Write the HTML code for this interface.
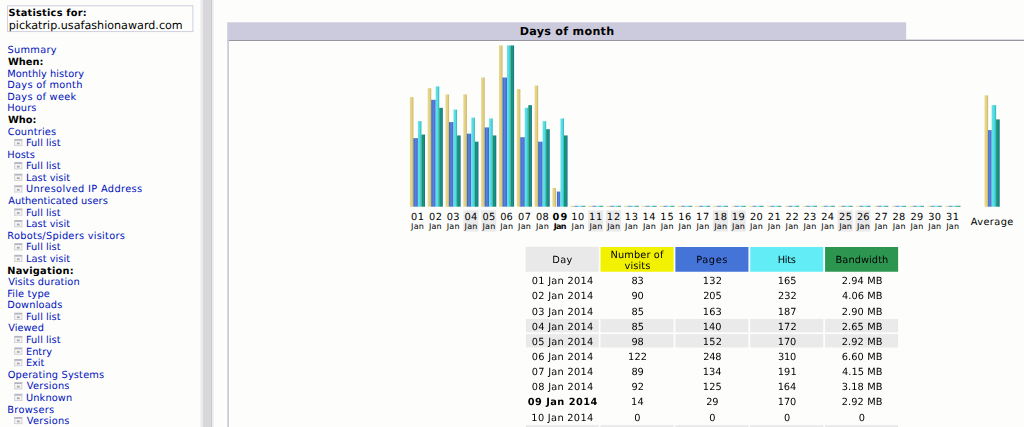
<!DOCTYPE html><html><head><meta charset="utf-8"><title>Statistics for pickatrip.usafashionaward.com</title>
<style>
html,body{margin:0;padding:0;background:#fdfefc;overflow:hidden;width:1024px;height:427px}
#p{position:absolute;left:0;top:0;width:1152px;height:482px;transform:scale(0.891);transform-origin:0 0;font:11px "DejaVu Sans","Liberation Sans",sans-serif;color:#000;background:#fdfefc;text-rendering:geometricPrecision}
#p div,#p span,#p a{position:absolute;white-space:nowrap}
a{color:#0011BB;text-decoration:none}
.t{line-height:13px;height:13px}
.i{width:9px;height:8px;border:1px solid #d0d0d6;border-top:2px solid #b4b4c0;background:#f4f4f7;box-sizing:border-box}
.i:after{content:"";position:absolute;left:2px;top:1.5px;width:3px;height:2px;background:#a8a8a4}
b{font-weight:bold}
.bar{width:4.2px}
.we{background:#EAEAEA}
.c{text-align:center}
</style></head><body><div id="p">
<div style="left:8.19px;top:5.50px;width:208.87px;height:30.53px;border:1px solid #c9c9dc;box-sizing:border-box"></div>
<div class="t" style="left:9.58px;top:8.11px;letter-spacing:0.253px"><b>Statistics for:</b></div>
<div style="left:9.79px;top:20.35px;font-size:12.5px;line-height:15px;letter-spacing:0.007px">pickatrip.usafashionaward.com</div>
<a class="t" style="left:8.50px;top:50.31px;letter-spacing:0.306px">Summary</a>
<div class="t" style="left:8.90px;top:63.31px;letter-spacing:0.057px"><b>When:</b></div>
<a class="t" style="left:8.15px;top:76.31px;letter-spacing:0.060px">Monthly history</a>
<a class="t" style="left:8.15px;top:89.31px;letter-spacing:0.300px">Days of month</a>
<a class="t" style="left:8.15px;top:102.32px;letter-spacing:0.313px">Days of week</a>
<a class="t" style="left:8.15px;top:115.32px;letter-spacing:0.139px">Hours</a>
<div class="t" style="left:8.90px;top:128.32px;letter-spacing:0.035px"><b>Who:</b></div>
<a class="t" style="left:8.60px;top:141.32px;letter-spacing:0.212px">Countries</a>
<div class="i" style="left:15.71px;top:156.06px"></div>
<a class="t" style="left:29.14px;top:154.33px;letter-spacing:0.056px">Full list</a>
<a class="t" style="left:8.15px;top:167.33px;letter-spacing:0.052px">Hosts</a>
<div class="i" style="left:15.71px;top:182.07px"></div>
<a class="t" style="left:29.14px;top:180.33px;letter-spacing:0.056px">Full list</a>
<div class="i" style="left:15.71px;top:195.07px"></div>
<a class="t" style="left:29.14px;top:193.33px;letter-spacing:0.055px">Last visit</a>
<div class="i" style="left:15.71px;top:208.07px"></div>
<a class="t" style="left:29.24px;top:206.33px;letter-spacing:0.384px">Unresolved IP Address</a>
<a class="t" style="left:9.15px;top:219.34px;letter-spacing:0.047px">Authenticated users</a>
<div class="i" style="left:15.71px;top:234.08px"></div>
<a class="t" style="left:29.14px;top:232.34px;letter-spacing:0.056px">Full list</a>
<div class="i" style="left:15.71px;top:247.08px"></div>
<a class="t" style="left:29.14px;top:245.34px;letter-spacing:0.055px">Last visit</a>
<a class="t" style="left:8.15px;top:258.34px;letter-spacing:0.295px">Robots/Spiders visitors</a>
<div class="i" style="left:15.71px;top:273.08px"></div>
<a class="t" style="left:29.14px;top:271.35px;letter-spacing:0.056px">Full list</a>
<div class="i" style="left:15.71px;top:286.09px"></div>
<a class="t" style="left:29.14px;top:284.35px;letter-spacing:0.055px">Last visit</a>
<div class="t" style="left:8.20px;top:297.35px;letter-spacing:0.279px"><b>Navigation:</b></div>
<a class="t" style="left:9.15px;top:310.35px;letter-spacing:0.090px">Visits duration</a>
<a class="t" style="left:8.15px;top:323.35px;letter-spacing:0.173px">File type</a>
<a class="t" style="left:8.15px;top:336.36px;letter-spacing:0.180px">Downloads</a>
<div class="i" style="left:15.71px;top:351.10px"></div>
<a class="t" style="left:29.14px;top:349.36px;letter-spacing:0.056px">Full list</a>
<a class="t" style="left:9.15px;top:362.36px;letter-spacing:0.047px">Viewed</a>
<div class="i" style="left:15.71px;top:377.10px"></div>
<a class="t" style="left:29.14px;top:375.36px;letter-spacing:0.056px">Full list</a>
<div class="i" style="left:15.71px;top:390.10px"></div>
<a class="t" style="left:29.14px;top:388.37px;letter-spacing:0.010px">Entry</a>
<div class="i" style="left:15.71px;top:403.11px"></div>
<a class="t" style="left:29.14px;top:401.37px;letter-spacing:-0.071px">Exit</a>
<a class="t" style="left:8.60px;top:414.37px;letter-spacing:0.192px">Operating Systems</a>
<div class="i" style="left:15.71px;top:429.11px"></div>
<a class="t" style="left:30.14px;top:427.37px;letter-spacing:0.236px">Versions</a>
<div class="i" style="left:15.71px;top:442.11px"></div>
<a class="t" style="left:29.24px;top:440.37px;letter-spacing:0.107px">Unknown</a>
<a class="t" style="left:8.15px;top:453.38px;letter-spacing:0.335px">Browsers</a>
<div class="i" style="left:15.71px;top:468.12px"></div>
<a class="t" style="left:30.14px;top:466.38px;letter-spacing:0.236px">Versions</a>
<div style="left:224.69px;top:0;width:3.82px;height:482px;background:#ebebed"></div>
<div style="left:228.28px;top:0;width:8.53px;height:482px;background:#d9d7dc"></div>
<div style="left:236.70px;top:0;width:1.01px;height:482px;background:#c2c0c5"></div>
<div style="left:237.71px;top:0;width:2.02px;height:482px;background:#ececf0"></div>
<div style="left:254.66px;top:24.80px;width:762.18px;height:20.43px;background:#cccbdd"></div>
<div style="left:583.30px;top:27.26px;font-size:12.5px;line-height:15px;letter-spacing:0.321px"><b>Days of month</b></div>
<div style="left:1016.84px;top:44.00px;width:136.44px;height:1.2px;background:#d2d2dc"></div>
<div style="left:254.66px;top:44.78px;width:898.61px;height:1.1px;background:#8c8a92"></div>
<div style="left:254.66px;top:45.23px;width:2px;height:460px;background:#cccbdd"></div>
<div class="bar" style="left:460.16px;top:109.10px;height:123px;background:linear-gradient(90deg,#e8d890 0,#e2d284 55%,#ccb264 100%)"></div>
<div class="bar" style="left:464.36px;top:155.10px;height:77px;background:linear-gradient(90deg,#2a62b6 0,#5a82dc 40%,#5474d8 70%,#3860c4 100%)"></div>
<div class="bar" style="left:468.56px;top:136.10px;height:96px;background:linear-gradient(90deg,#5ee4ea 0,#54dce2 55%,#34b0b8 100%)"></div>
<div class="bar" style="left:472.76px;top:151.10px;height:81px;background:linear-gradient(90deg,#0e8e6e 0,#169878 55%,#1e68a0 100%)"></div>
<div class="t" style="left:461.37px;top:236.61px;letter-spacing:0.496px">01</div>
<div style="left:461.33px;top:249.57px;font-size:9px;line-height:11px;letter-spacing:0.261px">Jan</div>
<div class="bar" style="left:480.18px;top:99.10px;height:133px;background:linear-gradient(90deg,#e8d890 0,#e2d284 55%,#ccb264 100%)"></div>
<div class="bar" style="left:484.38px;top:112.10px;height:120px;background:linear-gradient(90deg,#2a62b6 0,#5a82dc 40%,#5474d8 70%,#3860c4 100%)"></div>
<div class="bar" style="left:488.58px;top:97.10px;height:135px;background:linear-gradient(90deg,#5ee4ea 0,#54dce2 55%,#34b0b8 100%)"></div>
<div class="bar" style="left:492.78px;top:121.10px;height:111px;background:linear-gradient(90deg,#0e8e6e 0,#169878 55%,#1e68a0 100%)"></div>
<div class="t" style="left:481.38px;top:236.61px;letter-spacing:0.596px">02</div>
<div style="left:481.35px;top:249.57px;font-size:9px;line-height:11px;letter-spacing:0.261px">Jan</div>
<div class="bar" style="left:500.20px;top:106.10px;height:126px;background:linear-gradient(90deg,#e8d890 0,#e2d284 55%,#ccb264 100%)"></div>
<div class="bar" style="left:504.40px;top:137.10px;height:95px;background:linear-gradient(90deg,#2a62b6 0,#5a82dc 40%,#5474d8 70%,#3860c4 100%)"></div>
<div class="bar" style="left:508.60px;top:123.10px;height:109px;background:linear-gradient(90deg,#5ee4ea 0,#54dce2 55%,#34b0b8 100%)"></div>
<div class="bar" style="left:512.80px;top:152.10px;height:80px;background:linear-gradient(90deg,#0e8e6e 0,#169878 55%,#1e68a0 100%)"></div>
<div class="t" style="left:501.40px;top:236.61px;letter-spacing:0.346px">03</div>
<div style="left:501.37px;top:249.57px;font-size:9px;line-height:11px;letter-spacing:0.261px">Jan</div>
<div class="bar" style="left:520.21px;top:106.10px;height:126px;background:linear-gradient(90deg,#e8d890 0,#e2d284 55%,#ccb264 100%)"></div>
<div class="bar" style="left:524.41px;top:150.10px;height:82px;background:linear-gradient(90deg,#2a62b6 0,#5a82dc 40%,#5474d8 70%,#3860c4 100%)"></div>
<div class="bar" style="left:528.61px;top:132.10px;height:100px;background:linear-gradient(90deg,#5ee4ea 0,#54dce2 55%,#34b0b8 100%)"></div>
<div class="bar" style="left:532.81px;top:159.10px;height:73px;background:linear-gradient(90deg,#0e8e6e 0,#169878 55%,#1e68a0 100%)"></div>
<div class="we" style="left:519.71px;top:235.69px;width:16.95px;height:24.24px"></div>
<div class="t" style="left:521.42px;top:236.61px;letter-spacing:0.096px">04</div>
<div style="left:521.39px;top:249.57px;font-size:9px;line-height:11px;letter-spacing:0.261px">Jan</div>
<div class="bar" style="left:540.23px;top:87.10px;height:145px;background:linear-gradient(90deg,#e8d890 0,#e2d284 55%,#ccb264 100%)"></div>
<div class="bar" style="left:544.43px;top:143.10px;height:89px;background:linear-gradient(90deg,#2a62b6 0,#5a82dc 40%,#5474d8 70%,#3860c4 100%)"></div>
<div class="bar" style="left:548.63px;top:133.10px;height:99px;background:linear-gradient(90deg,#5ee4ea 0,#54dce2 55%,#34b0b8 100%)"></div>
<div class="bar" style="left:552.83px;top:152.10px;height:80px;background:linear-gradient(90deg,#0e8e6e 0,#169878 55%,#1e68a0 100%)"></div>
<div class="we" style="left:539.73px;top:235.69px;width:16.95px;height:24.24px"></div>
<div class="t" style="left:541.44px;top:236.61px;letter-spacing:0.446px">05</div>
<div style="left:541.41px;top:249.57px;font-size:9px;line-height:11px;letter-spacing:0.261px">Jan</div>
<div class="bar" style="left:560.25px;top:51.10px;height:181px;background:linear-gradient(90deg,#e8d890 0,#e2d284 55%,#ccb264 100%)"></div>
<div class="bar" style="left:564.45px;top:87.10px;height:145px;background:linear-gradient(90deg,#2a62b6 0,#5a82dc 40%,#5474d8 70%,#3860c4 100%)"></div>
<div class="bar" style="left:568.65px;top:51.10px;height:181px;background:linear-gradient(90deg,#5ee4ea 0,#54dce2 55%,#34b0b8 100%)"></div>
<div class="bar" style="left:572.85px;top:51.10px;height:181px;background:linear-gradient(90deg,#0e8e6e 0,#169878 55%,#1e68a0 100%)"></div>
<div class="t" style="left:561.46px;top:236.61px;letter-spacing:0.146px">06</div>
<div style="left:561.43px;top:249.57px;font-size:9px;line-height:11px;letter-spacing:0.261px">Jan</div>
<div class="bar" style="left:580.27px;top:100.10px;height:132px;background:linear-gradient(90deg,#e8d890 0,#e2d284 55%,#ccb264 100%)"></div>
<div class="bar" style="left:584.47px;top:154.10px;height:78px;background:linear-gradient(90deg,#2a62b6 0,#5a82dc 40%,#5474d8 70%,#3860c4 100%)"></div>
<div class="bar" style="left:588.67px;top:121.10px;height:111px;background:linear-gradient(90deg,#5ee4ea 0,#54dce2 55%,#34b0b8 100%)"></div>
<div class="bar" style="left:592.87px;top:118.10px;height:114px;background:linear-gradient(90deg,#0e8e6e 0,#169878 55%,#1e68a0 100%)"></div>
<div class="t" style="left:581.48px;top:236.61px;letter-spacing:0.396px">07</div>
<div style="left:581.45px;top:249.57px;font-size:9px;line-height:11px;letter-spacing:0.261px">Jan</div>
<div class="bar" style="left:600.29px;top:96.10px;height:136px;background:linear-gradient(90deg,#e8d890 0,#e2d284 55%,#ccb264 100%)"></div>
<div class="bar" style="left:604.49px;top:159.10px;height:73px;background:linear-gradient(90deg,#2a62b6 0,#5a82dc 40%,#5474d8 70%,#3860c4 100%)"></div>
<div class="bar" style="left:608.69px;top:136.10px;height:96px;background:linear-gradient(90deg,#5ee4ea 0,#54dce2 55%,#34b0b8 100%)"></div>
<div class="bar" style="left:612.89px;top:145.10px;height:87px;background:linear-gradient(90deg,#0e8e6e 0,#169878 55%,#1e68a0 100%)"></div>
<div class="t" style="left:601.50px;top:236.61px;letter-spacing:0.246px">08</div>
<div style="left:601.46px;top:249.57px;font-size:9px;line-height:11px;letter-spacing:0.261px">Jan</div>
<div class="bar" style="left:620.31px;top:211.10px;height:21px;background:linear-gradient(90deg,#e8d890 0,#e2d284 55%,#ccb264 100%)"></div>
<div class="bar" style="left:624.51px;top:215.10px;height:17px;background:linear-gradient(90deg,#2a62b6 0,#5a82dc 40%,#5474d8 70%,#3860c4 100%)"></div>
<div class="bar" style="left:628.71px;top:133.10px;height:99px;background:linear-gradient(90deg,#5ee4ea 0,#54dce2 55%,#34b0b8 100%)"></div>
<div class="bar" style="left:632.91px;top:152.10px;height:80px;background:linear-gradient(90deg,#0e8e6e 0,#169878 55%,#1e68a0 100%)"></div>
<div class="t" style="left:620.15px;top:236.61px;letter-spacing:1.272px"><b>09</b></div>
<div style="left:621.53px;top:249.57px;font-size:9px;line-height:11px;letter-spacing:-0.790px"><b>Jan</b></div>
<div class="bar" style="left:640.33px;top:231.10px;height:1px;background:linear-gradient(90deg,#e8d890 0,#e2d284 55%,#ccb264 100%)"></div>
<div class="bar" style="left:644.53px;top:231.10px;height:1px;background:linear-gradient(90deg,#2a62b6 0,#5a82dc 40%,#5474d8 70%,#3860c4 100%)"></div>
<div class="bar" style="left:648.73px;top:231.10px;height:1px;background:linear-gradient(90deg,#5ee4ea 0,#54dce2 55%,#34b0b8 100%)"></div>
<div class="bar" style="left:652.93px;top:231.10px;height:1px;background:linear-gradient(90deg,#0e8e6e 0,#169878 55%,#1e68a0 100%)"></div>
<div class="t" style="left:641.04px;top:236.61px;letter-spacing:0.696px">10</div>
<div style="left:641.50px;top:249.57px;font-size:9px;line-height:11px;letter-spacing:0.261px">Jan</div>
<div class="bar" style="left:660.35px;top:231.10px;height:1px;background:linear-gradient(90deg,#e8d890 0,#e2d284 55%,#ccb264 100%)"></div>
<div class="bar" style="left:664.55px;top:231.10px;height:1px;background:linear-gradient(90deg,#2a62b6 0,#5a82dc 40%,#5474d8 70%,#3860c4 100%)"></div>
<div class="bar" style="left:668.75px;top:231.10px;height:1px;background:linear-gradient(90deg,#5ee4ea 0,#54dce2 55%,#34b0b8 100%)"></div>
<div class="bar" style="left:672.95px;top:231.10px;height:1px;background:linear-gradient(90deg,#0e8e6e 0,#169878 55%,#1e68a0 100%)"></div>
<div class="we" style="left:659.85px;top:235.69px;width:16.95px;height:24.24px"></div>
<div class="t" style="left:661.06px;top:236.61px;letter-spacing:0.996px">11</div>
<div style="left:661.52px;top:249.57px;font-size:9px;line-height:11px;letter-spacing:0.261px">Jan</div>
<div class="bar" style="left:680.37px;top:231.10px;height:1px;background:linear-gradient(90deg,#e8d890 0,#e2d284 55%,#ccb264 100%)"></div>
<div class="bar" style="left:684.57px;top:231.10px;height:1px;background:linear-gradient(90deg,#2a62b6 0,#5a82dc 40%,#5474d8 70%,#3860c4 100%)"></div>
<div class="bar" style="left:688.77px;top:231.10px;height:1px;background:linear-gradient(90deg,#5ee4ea 0,#54dce2 55%,#34b0b8 100%)"></div>
<div class="bar" style="left:692.97px;top:231.10px;height:1px;background:linear-gradient(90deg,#0e8e6e 0,#169878 55%,#1e68a0 100%)"></div>
<div class="we" style="left:679.87px;top:235.69px;width:16.95px;height:24.24px"></div>
<div class="t" style="left:681.07px;top:236.61px;letter-spacing:1.096px">12</div>
<div style="left:681.54px;top:249.57px;font-size:9px;line-height:11px;letter-spacing:0.261px">Jan</div>
<div class="bar" style="left:700.39px;top:231.10px;height:1px;background:linear-gradient(90deg,#e8d890 0,#e2d284 55%,#ccb264 100%)"></div>
<div class="bar" style="left:704.59px;top:231.10px;height:1px;background:linear-gradient(90deg,#2a62b6 0,#5a82dc 40%,#5474d8 70%,#3860c4 100%)"></div>
<div class="bar" style="left:708.79px;top:231.10px;height:1px;background:linear-gradient(90deg,#5ee4ea 0,#54dce2 55%,#34b0b8 100%)"></div>
<div class="bar" style="left:712.99px;top:231.10px;height:1px;background:linear-gradient(90deg,#0e8e6e 0,#169878 55%,#1e68a0 100%)"></div>
<div class="t" style="left:701.09px;top:236.61px;letter-spacing:0.846px">13</div>
<div style="left:701.56px;top:249.57px;font-size:9px;line-height:11px;letter-spacing:0.261px">Jan</div>
<div class="bar" style="left:720.41px;top:231.10px;height:1px;background:linear-gradient(90deg,#e8d890 0,#e2d284 55%,#ccb264 100%)"></div>
<div class="bar" style="left:724.61px;top:231.10px;height:1px;background:linear-gradient(90deg,#2a62b6 0,#5a82dc 40%,#5474d8 70%,#3860c4 100%)"></div>
<div class="bar" style="left:728.81px;top:231.10px;height:1px;background:linear-gradient(90deg,#5ee4ea 0,#54dce2 55%,#34b0b8 100%)"></div>
<div class="bar" style="left:733.01px;top:231.10px;height:1px;background:linear-gradient(90deg,#0e8e6e 0,#169878 55%,#1e68a0 100%)"></div>
<div class="t" style="left:721.11px;top:236.61px;letter-spacing:0.596px">14</div>
<div style="left:721.58px;top:249.57px;font-size:9px;line-height:11px;letter-spacing:0.261px">Jan</div>
<div class="bar" style="left:740.42px;top:231.10px;height:1px;background:linear-gradient(90deg,#e8d890 0,#e2d284 55%,#ccb264 100%)"></div>
<div class="bar" style="left:744.62px;top:231.10px;height:1px;background:linear-gradient(90deg,#2a62b6 0,#5a82dc 40%,#5474d8 70%,#3860c4 100%)"></div>
<div class="bar" style="left:748.82px;top:231.10px;height:1px;background:linear-gradient(90deg,#5ee4ea 0,#54dce2 55%,#34b0b8 100%)"></div>
<div class="bar" style="left:753.02px;top:231.10px;height:1px;background:linear-gradient(90deg,#0e8e6e 0,#169878 55%,#1e68a0 100%)"></div>
<div class="t" style="left:741.13px;top:236.61px;letter-spacing:0.946px">15</div>
<div style="left:741.60px;top:249.57px;font-size:9px;line-height:11px;letter-spacing:0.261px">Jan</div>
<div class="bar" style="left:760.44px;top:231.10px;height:1px;background:linear-gradient(90deg,#e8d890 0,#e2d284 55%,#ccb264 100%)"></div>
<div class="bar" style="left:764.64px;top:231.10px;height:1px;background:linear-gradient(90deg,#2a62b6 0,#5a82dc 40%,#5474d8 70%,#3860c4 100%)"></div>
<div class="bar" style="left:768.84px;top:231.10px;height:1px;background:linear-gradient(90deg,#5ee4ea 0,#54dce2 55%,#34b0b8 100%)"></div>
<div class="bar" style="left:773.04px;top:231.10px;height:1px;background:linear-gradient(90deg,#0e8e6e 0,#169878 55%,#1e68a0 100%)"></div>
<div class="t" style="left:761.15px;top:236.61px;letter-spacing:0.646px">16</div>
<div style="left:761.62px;top:249.57px;font-size:9px;line-height:11px;letter-spacing:0.261px">Jan</div>
<div class="bar" style="left:780.46px;top:231.10px;height:1px;background:linear-gradient(90deg,#e8d890 0,#e2d284 55%,#ccb264 100%)"></div>
<div class="bar" style="left:784.66px;top:231.10px;height:1px;background:linear-gradient(90deg,#2a62b6 0,#5a82dc 40%,#5474d8 70%,#3860c4 100%)"></div>
<div class="bar" style="left:788.86px;top:231.10px;height:1px;background:linear-gradient(90deg,#5ee4ea 0,#54dce2 55%,#34b0b8 100%)"></div>
<div class="bar" style="left:793.06px;top:231.10px;height:1px;background:linear-gradient(90deg,#0e8e6e 0,#169878 55%,#1e68a0 100%)"></div>
<div class="t" style="left:781.17px;top:236.61px;letter-spacing:0.896px">17</div>
<div style="left:781.64px;top:249.57px;font-size:9px;line-height:11px;letter-spacing:0.261px">Jan</div>
<div class="bar" style="left:800.48px;top:231.10px;height:1px;background:linear-gradient(90deg,#e8d890 0,#e2d284 55%,#ccb264 100%)"></div>
<div class="bar" style="left:804.68px;top:231.10px;height:1px;background:linear-gradient(90deg,#2a62b6 0,#5a82dc 40%,#5474d8 70%,#3860c4 100%)"></div>
<div class="bar" style="left:808.88px;top:231.10px;height:1px;background:linear-gradient(90deg,#5ee4ea 0,#54dce2 55%,#34b0b8 100%)"></div>
<div class="bar" style="left:813.08px;top:231.10px;height:1px;background:linear-gradient(90deg,#0e8e6e 0,#169878 55%,#1e68a0 100%)"></div>
<div class="we" style="left:799.98px;top:235.69px;width:16.95px;height:24.24px"></div>
<div class="t" style="left:801.19px;top:236.61px;letter-spacing:0.746px">18</div>
<div style="left:801.65px;top:249.57px;font-size:9px;line-height:11px;letter-spacing:0.261px">Jan</div>
<div class="bar" style="left:820.50px;top:231.10px;height:1px;background:linear-gradient(90deg,#e8d890 0,#e2d284 55%,#ccb264 100%)"></div>
<div class="bar" style="left:824.70px;top:231.10px;height:1px;background:linear-gradient(90deg,#2a62b6 0,#5a82dc 40%,#5474d8 70%,#3860c4 100%)"></div>
<div class="bar" style="left:828.90px;top:231.10px;height:1px;background:linear-gradient(90deg,#5ee4ea 0,#54dce2 55%,#34b0b8 100%)"></div>
<div class="bar" style="left:833.10px;top:231.10px;height:1px;background:linear-gradient(90deg,#0e8e6e 0,#169878 55%,#1e68a0 100%)"></div>
<div class="we" style="left:820.00px;top:235.69px;width:16.95px;height:24.24px"></div>
<div class="t" style="left:821.21px;top:236.61px;letter-spacing:0.746px">19</div>
<div style="left:821.67px;top:249.57px;font-size:9px;line-height:11px;letter-spacing:0.261px">Jan</div>
<div class="bar" style="left:840.52px;top:231.10px;height:1px;background:linear-gradient(90deg,#e8d890 0,#e2d284 55%,#ccb264 100%)"></div>
<div class="bar" style="left:844.72px;top:231.10px;height:1px;background:linear-gradient(90deg,#2a62b6 0,#5a82dc 40%,#5474d8 70%,#3860c4 100%)"></div>
<div class="bar" style="left:848.92px;top:231.10px;height:1px;background:linear-gradient(90deg,#5ee4ea 0,#54dce2 55%,#34b0b8 100%)"></div>
<div class="bar" style="left:853.12px;top:231.10px;height:1px;background:linear-gradient(90deg,#0e8e6e 0,#169878 55%,#1e68a0 100%)"></div>
<div class="t" style="left:841.63px;top:236.61px;letter-spacing:0.296px">20</div>
<div style="left:841.69px;top:249.57px;font-size:9px;line-height:11px;letter-spacing:0.261px">Jan</div>
<div class="bar" style="left:860.54px;top:231.10px;height:1px;background:linear-gradient(90deg,#e8d890 0,#e2d284 55%,#ccb264 100%)"></div>
<div class="bar" style="left:864.74px;top:231.10px;height:1px;background:linear-gradient(90deg,#2a62b6 0,#5a82dc 40%,#5474d8 70%,#3860c4 100%)"></div>
<div class="bar" style="left:868.94px;top:231.10px;height:1px;background:linear-gradient(90deg,#5ee4ea 0,#54dce2 55%,#34b0b8 100%)"></div>
<div class="bar" style="left:873.14px;top:231.10px;height:1px;background:linear-gradient(90deg,#0e8e6e 0,#169878 55%,#1e68a0 100%)"></div>
<div class="t" style="left:861.65px;top:236.61px;letter-spacing:0.596px">21</div>
<div style="left:861.71px;top:249.57px;font-size:9px;line-height:11px;letter-spacing:0.261px">Jan</div>
<div class="bar" style="left:880.56px;top:231.10px;height:1px;background:linear-gradient(90deg,#e8d890 0,#e2d284 55%,#ccb264 100%)"></div>
<div class="bar" style="left:884.76px;top:231.10px;height:1px;background:linear-gradient(90deg,#2a62b6 0,#5a82dc 40%,#5474d8 70%,#3860c4 100%)"></div>
<div class="bar" style="left:888.96px;top:231.10px;height:1px;background:linear-gradient(90deg,#5ee4ea 0,#54dce2 55%,#34b0b8 100%)"></div>
<div class="bar" style="left:893.16px;top:231.10px;height:1px;background:linear-gradient(90deg,#0e8e6e 0,#169878 55%,#1e68a0 100%)"></div>
<div class="t" style="left:881.67px;top:236.61px;letter-spacing:0.696px">22</div>
<div style="left:881.73px;top:249.57px;font-size:9px;line-height:11px;letter-spacing:0.261px">Jan</div>
<div class="bar" style="left:900.58px;top:231.10px;height:1px;background:linear-gradient(90deg,#e8d890 0,#e2d284 55%,#ccb264 100%)"></div>
<div class="bar" style="left:904.78px;top:231.10px;height:1px;background:linear-gradient(90deg,#2a62b6 0,#5a82dc 40%,#5474d8 70%,#3860c4 100%)"></div>
<div class="bar" style="left:908.98px;top:231.10px;height:1px;background:linear-gradient(90deg,#5ee4ea 0,#54dce2 55%,#34b0b8 100%)"></div>
<div class="bar" style="left:913.18px;top:231.10px;height:1px;background:linear-gradient(90deg,#0e8e6e 0,#169878 55%,#1e68a0 100%)"></div>
<div class="t" style="left:901.68px;top:236.61px;letter-spacing:0.446px">23</div>
<div style="left:901.75px;top:249.57px;font-size:9px;line-height:11px;letter-spacing:0.261px">Jan</div>
<div class="bar" style="left:920.60px;top:231.10px;height:1px;background:linear-gradient(90deg,#e8d890 0,#e2d284 55%,#ccb264 100%)"></div>
<div class="bar" style="left:924.80px;top:231.10px;height:1px;background:linear-gradient(90deg,#2a62b6 0,#5a82dc 40%,#5474d8 70%,#3860c4 100%)"></div>
<div class="bar" style="left:929.00px;top:231.10px;height:1px;background:linear-gradient(90deg,#5ee4ea 0,#54dce2 55%,#34b0b8 100%)"></div>
<div class="bar" style="left:933.20px;top:231.10px;height:1px;background:linear-gradient(90deg,#0e8e6e 0,#169878 55%,#1e68a0 100%)"></div>
<div class="t" style="left:921.70px;top:236.61px;letter-spacing:0.196px">24</div>
<div style="left:921.77px;top:249.57px;font-size:9px;line-height:11px;letter-spacing:0.261px">Jan</div>
<div class="bar" style="left:940.62px;top:231.10px;height:1px;background:linear-gradient(90deg,#e8d890 0,#e2d284 55%,#ccb264 100%)"></div>
<div class="bar" style="left:944.82px;top:231.10px;height:1px;background:linear-gradient(90deg,#2a62b6 0,#5a82dc 40%,#5474d8 70%,#3860c4 100%)"></div>
<div class="bar" style="left:949.02px;top:231.10px;height:1px;background:linear-gradient(90deg,#5ee4ea 0,#54dce2 55%,#34b0b8 100%)"></div>
<div class="bar" style="left:953.22px;top:231.10px;height:1px;background:linear-gradient(90deg,#0e8e6e 0,#169878 55%,#1e68a0 100%)"></div>
<div class="we" style="left:940.12px;top:235.69px;width:16.95px;height:24.24px"></div>
<div class="t" style="left:941.72px;top:236.61px;letter-spacing:0.546px">25</div>
<div style="left:941.79px;top:249.57px;font-size:9px;line-height:11px;letter-spacing:0.261px">Jan</div>
<div class="bar" style="left:960.63px;top:231.10px;height:1px;background:linear-gradient(90deg,#e8d890 0,#e2d284 55%,#ccb264 100%)"></div>
<div class="bar" style="left:964.83px;top:231.10px;height:1px;background:linear-gradient(90deg,#2a62b6 0,#5a82dc 40%,#5474d8 70%,#3860c4 100%)"></div>
<div class="bar" style="left:969.03px;top:231.10px;height:1px;background:linear-gradient(90deg,#5ee4ea 0,#54dce2 55%,#34b0b8 100%)"></div>
<div class="bar" style="left:973.23px;top:231.10px;height:1px;background:linear-gradient(90deg,#0e8e6e 0,#169878 55%,#1e68a0 100%)"></div>
<div class="we" style="left:960.13px;top:235.69px;width:16.95px;height:24.24px"></div>
<div class="t" style="left:961.74px;top:236.61px;letter-spacing:0.246px">26</div>
<div style="left:961.81px;top:249.57px;font-size:9px;line-height:11px;letter-spacing:0.261px">Jan</div>
<div class="bar" style="left:980.65px;top:231.10px;height:1px;background:linear-gradient(90deg,#e8d890 0,#e2d284 55%,#ccb264 100%)"></div>
<div class="bar" style="left:984.85px;top:231.10px;height:1px;background:linear-gradient(90deg,#2a62b6 0,#5a82dc 40%,#5474d8 70%,#3860c4 100%)"></div>
<div class="bar" style="left:989.05px;top:231.10px;height:1px;background:linear-gradient(90deg,#5ee4ea 0,#54dce2 55%,#34b0b8 100%)"></div>
<div class="bar" style="left:993.25px;top:231.10px;height:1px;background:linear-gradient(90deg,#0e8e6e 0,#169878 55%,#1e68a0 100%)"></div>
<div class="t" style="left:981.76px;top:236.61px;letter-spacing:0.496px">27</div>
<div style="left:981.83px;top:249.57px;font-size:9px;line-height:11px;letter-spacing:0.261px">Jan</div>
<div class="bar" style="left:1000.67px;top:231.10px;height:1px;background:linear-gradient(90deg,#e8d890 0,#e2d284 55%,#ccb264 100%)"></div>
<div class="bar" style="left:1004.87px;top:231.10px;height:1px;background:linear-gradient(90deg,#2a62b6 0,#5a82dc 40%,#5474d8 70%,#3860c4 100%)"></div>
<div class="bar" style="left:1009.07px;top:231.10px;height:1px;background:linear-gradient(90deg,#5ee4ea 0,#54dce2 55%,#34b0b8 100%)"></div>
<div class="bar" style="left:1013.27px;top:231.10px;height:1px;background:linear-gradient(90deg,#0e8e6e 0,#169878 55%,#1e68a0 100%)"></div>
<div class="t" style="left:1001.78px;top:236.61px;letter-spacing:0.346px">28</div>
<div style="left:1001.85px;top:249.57px;font-size:9px;line-height:11px;letter-spacing:0.261px">Jan</div>
<div class="bar" style="left:1020.69px;top:231.10px;height:1px;background:linear-gradient(90deg,#e8d890 0,#e2d284 55%,#ccb264 100%)"></div>
<div class="bar" style="left:1024.89px;top:231.10px;height:1px;background:linear-gradient(90deg,#2a62b6 0,#5a82dc 40%,#5474d8 70%,#3860c4 100%)"></div>
<div class="bar" style="left:1029.09px;top:231.10px;height:1px;background:linear-gradient(90deg,#5ee4ea 0,#54dce2 55%,#34b0b8 100%)"></div>
<div class="bar" style="left:1033.29px;top:231.10px;height:1px;background:linear-gradient(90deg,#0e8e6e 0,#169878 55%,#1e68a0 100%)"></div>
<div class="t" style="left:1021.80px;top:236.61px;letter-spacing:0.346px">29</div>
<div style="left:1021.86px;top:249.57px;font-size:9px;line-height:11px;letter-spacing:0.261px">Jan</div>
<div class="bar" style="left:1040.71px;top:231.10px;height:1px;background:linear-gradient(90deg,#e8d890 0,#e2d284 55%,#ccb264 100%)"></div>
<div class="bar" style="left:1044.91px;top:231.10px;height:1px;background:linear-gradient(90deg,#2a62b6 0,#5a82dc 40%,#5474d8 70%,#3860c4 100%)"></div>
<div class="bar" style="left:1049.11px;top:231.10px;height:1px;background:linear-gradient(90deg,#5ee4ea 0,#54dce2 55%,#34b0b8 100%)"></div>
<div class="bar" style="left:1053.31px;top:231.10px;height:1px;background:linear-gradient(90deg,#0e8e6e 0,#169878 55%,#1e68a0 100%)"></div>
<div class="t" style="left:1041.82px;top:236.61px;letter-spacing:0.296px">30</div>
<div style="left:1041.88px;top:249.57px;font-size:9px;line-height:11px;letter-spacing:0.261px">Jan</div>
<div class="bar" style="left:1060.73px;top:231.10px;height:1px;background:linear-gradient(90deg,#e8d890 0,#e2d284 55%,#ccb264 100%)"></div>
<div class="bar" style="left:1064.93px;top:231.10px;height:1px;background:linear-gradient(90deg,#2a62b6 0,#5a82dc 40%,#5474d8 70%,#3860c4 100%)"></div>
<div class="bar" style="left:1069.13px;top:231.10px;height:1px;background:linear-gradient(90deg,#5ee4ea 0,#54dce2 55%,#34b0b8 100%)"></div>
<div class="bar" style="left:1073.33px;top:231.10px;height:1px;background:linear-gradient(90deg,#0e8e6e 0,#169878 55%,#1e68a0 100%)"></div>
<div class="t" style="left:1061.84px;top:236.61px;letter-spacing:0.596px">31</div>
<div style="left:1061.90px;top:249.57px;font-size:9px;line-height:11px;letter-spacing:0.261px">Jan</div>
<div class="bar" style="left:1105.05px;top:107.10px;height:125px;background:linear-gradient(90deg,#e8d890 0,#e2d284 55%,#ccb264 100%)"></div>
<div class="bar" style="left:1109.25px;top:146.10px;height:86px;background:linear-gradient(90deg,#2a62b6 0,#5a82dc 40%,#5474d8 70%,#3860c4 100%)"></div>
<div class="bar" style="left:1113.45px;top:118.10px;height:114px;background:linear-gradient(90deg,#5ee4ea 0,#54dce2 55%,#34b0b8 100%)"></div>
<div class="bar" style="left:1117.65px;top:134.10px;height:98px;background:linear-gradient(90deg,#0e8e6e 0,#169878 55%,#1e68a0 100%)"></div>
<div class="t" style="left:1089.40px;top:241.67px;letter-spacing:0.449px">Average</div>
<div style="left:589.79px;top:277.10px;width:81.82px;height:28.06px;background:#e9e9e9"></div>
<div style="left:673.77px;top:277.10px;width:81.82px;height:28.06px;background:#f2f200"></div>
<div style="left:757.76px;top:277.10px;width:81.82px;height:28.06px;background:#4474d8"></div>
<div style="left:841.74px;top:277.10px;width:81.82px;height:28.06px;background:#62ecf6"></div>
<div style="left:925.72px;top:277.10px;width:81.82px;height:28.06px;background:#2c9650"></div>
<div class="t" style="left:619.88px;top:284.88px;letter-spacing:0.369px">Day</div>
<div class="t" style="left:685.15px;top:279.82px;letter-spacing:0.140px">Number of</div>
<div class="t" style="left:700.93px;top:292.17px;letter-spacing:0.098px">visits</div>
<div class="t" style="left:781.34px;top:284.88px;letter-spacing:0.666px">Pages</div>
<div class="t" style="left:872.84px;top:284.88px;letter-spacing:-0.312px">Hits</div>
<div class="t" style="left:937.75px;top:284.88px;letter-spacing:0.081px">Bandwidth</div>
<div class="t" style="left:596.89px;top:309.01px;letter-spacing:0.292px">01 Jan 2014</div>
<div class="t" style="left:708.71px;top:309.01px;letter-spacing:-0.103px">83</div>
<div class="t" style="left:788.82px;top:309.01px;letter-spacing:0.191px">132</div>
<div class="t" style="left:872.81px;top:309.01px;letter-spacing:0.116px">165</div>
<div class="t" style="left:944.62px;top:309.01px;letter-spacing:0.123px">2.94 MB</div>
<div class="t" style="left:596.89px;top:326.01px;letter-spacing:0.292px">02 Jan 2014</div>
<div class="t" style="left:708.76px;top:326.01px;letter-spacing:-0.303px">90</div>
<div class="t" style="left:789.22px;top:326.01px;letter-spacing:-0.084px">205</div>
<div class="t" style="left:873.21px;top:326.01px;letter-spacing:-0.009px">232</div>
<div class="t" style="left:944.92px;top:326.01px;letter-spacing:0.073px">4.06 MB</div>
<div class="t" style="left:596.89px;top:343.01px;letter-spacing:0.292px">03 Jan 2014</div>
<div class="t" style="left:708.71px;top:343.01px;letter-spacing:-0.003px">85</div>
<div class="t" style="left:788.82px;top:343.01px;letter-spacing:0.066px">163</div>
<div class="t" style="left:872.81px;top:343.01px;letter-spacing:0.091px">187</div>
<div class="t" style="left:944.62px;top:343.01px;letter-spacing:0.123px">2.90 MB</div>
<div class="we" style="left:589.79px;top:357.71px;width:81.82px;height:15px"></div>
<div class="we" style="left:673.77px;top:357.71px;width:81.82px;height:15px"></div>
<div class="we" style="left:757.76px;top:357.71px;width:81.82px;height:15px"></div>
<div class="we" style="left:841.74px;top:357.71px;width:81.82px;height:15px"></div>
<div class="we" style="left:925.72px;top:357.71px;width:81.82px;height:15px"></div>
<div class="t" style="left:596.89px;top:360.02px;letter-spacing:0.292px">04 Jan 2014</div>
<div class="t" style="left:708.71px;top:360.02px;letter-spacing:-0.003px">85</div>
<div class="t" style="left:788.82px;top:360.02px;letter-spacing:-0.009px">140</div>
<div class="t" style="left:872.81px;top:360.02px;letter-spacing:0.191px">172</div>
<div class="t" style="left:944.62px;top:360.02px;letter-spacing:0.123px">2.65 MB</div>
<div class="we" style="left:589.79px;top:374.71px;width:81.82px;height:15px"></div>
<div class="we" style="left:673.77px;top:374.71px;width:81.82px;height:15px"></div>
<div class="we" style="left:757.76px;top:374.71px;width:81.82px;height:15px"></div>
<div class="we" style="left:841.74px;top:374.71px;width:81.82px;height:15px"></div>
<div class="we" style="left:925.72px;top:374.71px;width:81.82px;height:15px"></div>
<div class="t" style="left:596.89px;top:377.02px;letter-spacing:0.292px">05 Jan 2014</div>
<div class="t" style="left:708.76px;top:377.02px;letter-spacing:-0.253px">98</div>
<div class="t" style="left:788.82px;top:377.02px;letter-spacing:0.191px">152</div>
<div class="t" style="left:872.81px;top:377.02px;letter-spacing:-0.009px">170</div>
<div class="t" style="left:944.62px;top:377.02px;letter-spacing:0.123px">2.92 MB</div>
<div class="t" style="left:596.89px;top:394.02px;letter-spacing:0.292px">06 Jan 2014</div>
<div class="t" style="left:704.84px;top:394.02px;letter-spacing:0.191px">122</div>
<div class="t" style="left:789.22px;top:394.02px;letter-spacing:-0.184px">248</div>
<div class="t" style="left:873.21px;top:394.02px;letter-spacing:-0.209px">310</div>
<div class="t" style="left:944.67px;top:394.02px;letter-spacing:0.115px">6.60 MB</div>
<div class="t" style="left:596.89px;top:411.03px;letter-spacing:0.292px">07 Jan 2014</div>
<div class="t" style="left:708.71px;top:411.03px;letter-spacing:-0.203px">89</div>
<div class="t" style="left:788.82px;top:411.03px;letter-spacing:-0.059px">134</div>
<div class="t" style="left:872.81px;top:411.03px;letter-spacing:0.141px">191</div>
<div class="t" style="left:944.92px;top:411.03px;letter-spacing:0.073px">4.15 MB</div>
<div class="t" style="left:596.89px;top:428.03px;letter-spacing:0.292px">08 Jan 2014</div>
<div class="t" style="left:708.76px;top:428.03px;letter-spacing:0.097px">92</div>
<div class="t" style="left:788.82px;top:428.03px;letter-spacing:0.116px">125</div>
<div class="t" style="left:872.81px;top:428.03px;letter-spacing:-0.059px">164</div>
<div class="t" style="left:944.62px;top:428.03px;letter-spacing:0.123px">3.18 MB</div>
<div class="t" style="left:592.20px;top:445.48px;letter-spacing:0.540px"><b>09 Jan 2014</b></div>
<div class="t" style="left:708.21px;top:445.03px;letter-spacing:0.147px">14</div>
<div class="t" style="left:792.59px;top:445.03px;letter-spacing:-0.103px">29</div>
<div class="t" style="left:872.81px;top:445.03px;letter-spacing:-0.009px">170</div>
<div class="t" style="left:944.62px;top:445.03px;letter-spacing:0.123px">2.92 MB</div>
<div class="t" style="left:596.39px;top:462.04px;letter-spacing:0.342px">10 Jan 2014</div>
<div class="t" style="left:711.96px;top:462.04px;letter-spacing:0.000px">0</div>
<div class="t" style="left:795.94px;top:462.04px;letter-spacing:0.000px">0</div>
<div class="t" style="left:879.93px;top:462.04px;letter-spacing:0.000px">0</div>
<div class="t" style="left:963.91px;top:462.04px;letter-spacing:0.000px">0</div>
<div class="we" style="left:589.79px;top:476.73px;width:81.82px;height:15px"></div>
<div class="we" style="left:673.77px;top:476.73px;width:81.82px;height:15px"></div>
<div class="we" style="left:757.76px;top:476.73px;width:81.82px;height:15px"></div>
<div class="we" style="left:841.74px;top:476.73px;width:81.82px;height:15px"></div>
<div class="we" style="left:925.72px;top:476.73px;width:81.82px;height:15px"></div>
<div class="t" style="left:596.39px;top:479.04px;letter-spacing:0.342px">11 Jan 2014</div>
<div class="t" style="left:711.96px;top:479.04px;letter-spacing:0.000px">0</div>
<div class="t" style="left:795.94px;top:479.04px;letter-spacing:0.000px">0</div>
<div class="t" style="left:879.93px;top:479.04px;letter-spacing:0.000px">0</div>
<div class="t" style="left:963.91px;top:479.04px;letter-spacing:0.000px">0</div>
</div></body></html>
